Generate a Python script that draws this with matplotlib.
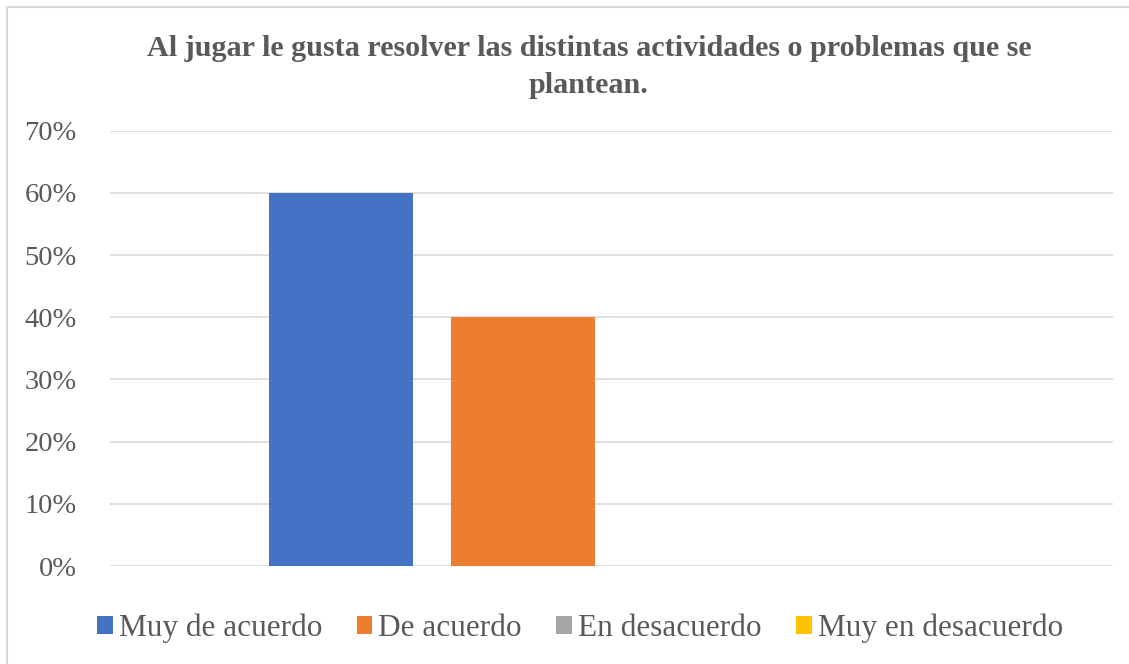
import matplotlib.pyplot as plt
from matplotlib.patches import Rectangle, Patch
from matplotlib.ticker import PercentFormatter

# --- data ---
series = ["Muy de acuerdo", "De acuerdo", "En desacuerdo", "Muy en desacuerdo"]
values = [0.60, 0.40, 0.0, 0.0]
colors = ["#4472c4", "#ed7d31", "#a5a5a5", "#ffc000"]
yticks = [0, 0.1, 0.2, 0.3, 0.4, 0.5, 0.6, 0.7]
title = "Al jugar le gusta resolver las distintas actividades o problemas que se\nplantean."

plt.rcParams["font.family"] = ["Liberation Serif", "DejaVu Serif"]
text_color = "#595959"
grid_color = "#d9d9d9"

W, H = 1129, 664
fig = plt.figure(figsize=(W / 100, H / 100), dpi=100)

# chart border (only top/left visible in the reference)
fig.patches.append(Rectangle((7 / W, -0.1), 1.2, 1 - 7 / H + 0.1, transform=fig.transFigure,
                             fill=False, edgecolor=grid_color, linewidth=1.5))

ax = fig.add_axes([110 / W, 1 - 566 / H, (1113 - 110) / W, (566 - 130.7) / H])

spacing = 182 / 1003
width = 144 / 1003
for i, (name, v, c) in enumerate(zip(series, values, colors)):
    ax.bar((i - 1.5) * spacing + 0.002, v, width=width, color=c, label=name, zorder=3)

ax.set_xlim(-0.5, 0.5)
ax.set_ylim(0, 0.7)
ax.set_yticks(yticks)
ax.yaxis.set_major_formatter(PercentFormatter(1.0, decimals=0))
ax.set_xticks([])
ax.grid(axis="y", color=grid_color, linewidth=1.2, zorder=0)
for s in ax.spines.values():
    s.set_visible(False)
ax.tick_params(axis="y", length=0, pad=24, labelsize=20.5, labelcolor=text_color)

fig.text(589 / W, 1 - 67 / H, title, ha="center", va="center", fontsize=21.7,
         fontweight="bold", color=text_color, linespacing=1.45)

handles = [Patch(facecolor=c, edgecolor="none") for c in colors]
fig.legend(handles, series, loc="center", bbox_to_anchor=(580 / W, 1 - 628 / H), ncol=4,
           frameon=False, fontsize=22.5, labelcolor=text_color, handlelength=0.5,
           handleheight=0.5, handletextpad=0.2, columnspacing=1.1, borderaxespad=0)

fig.savefig("out.png", dpi=100)
